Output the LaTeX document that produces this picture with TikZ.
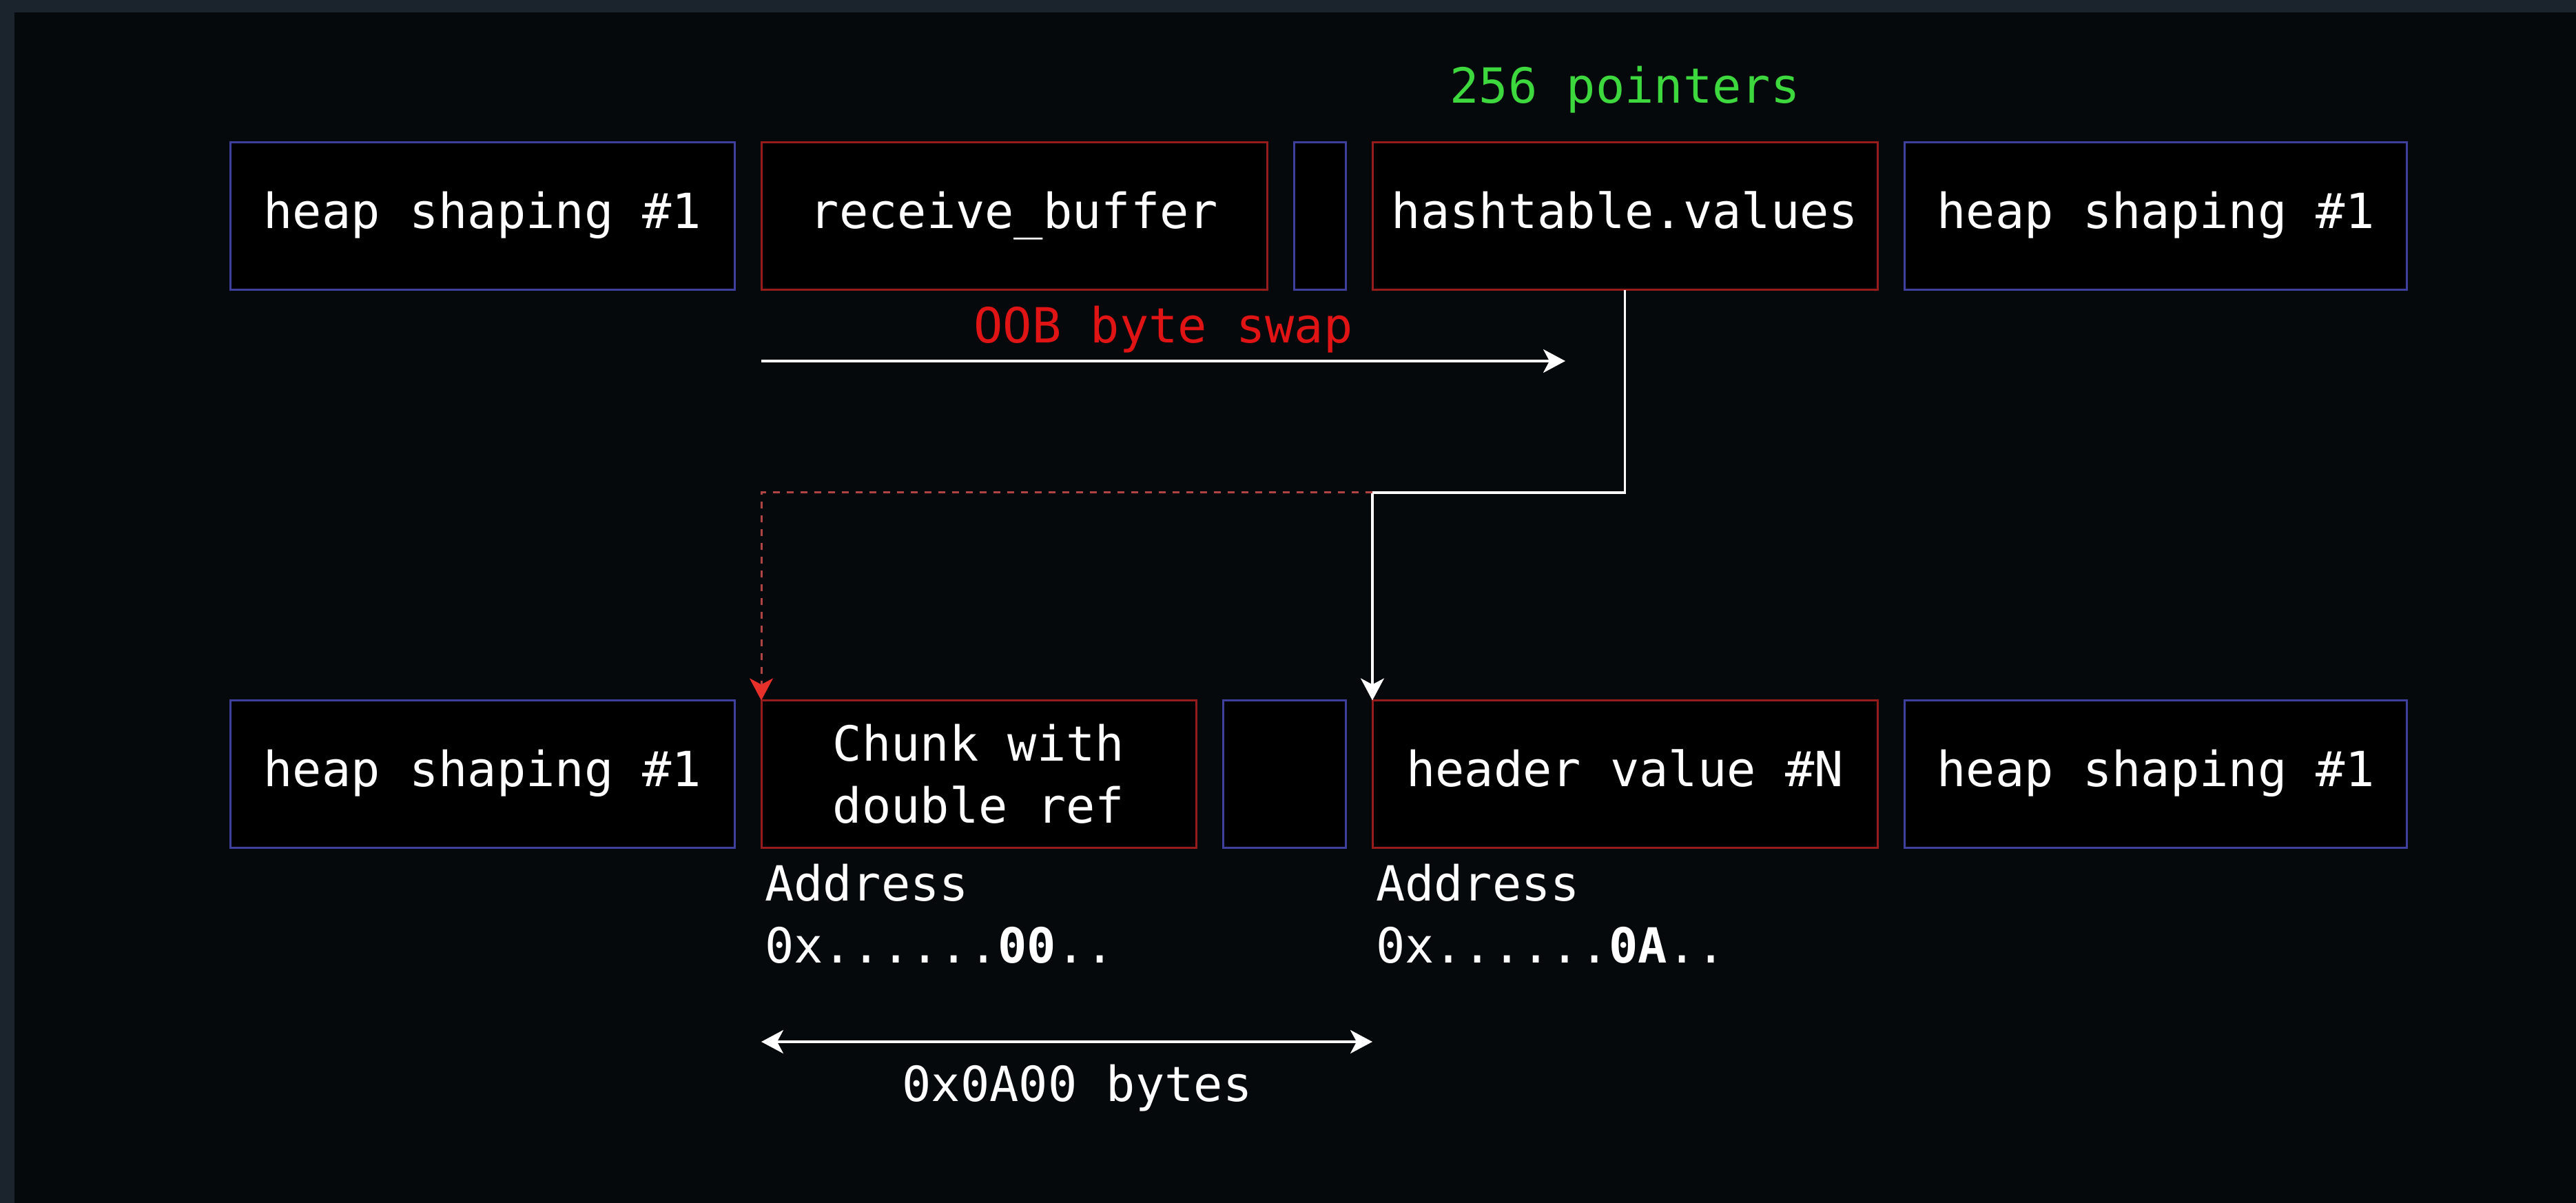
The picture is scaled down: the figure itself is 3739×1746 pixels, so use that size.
\documentclass[tikz,border=0pt]{standalone}
\usepackage{fontspec}
\setmonofont{DejaVu Sans Mono}
\usetikzlibrary{arrows.meta,positioning}

\definecolor{framegray}{HTML}{1B232D}
\definecolor{pagebg}{HTML}{05090C}
\definecolor{cellblue}{HTML}{3F3F9E}
\definecolor{cellred}{HTML}{961C1C}
\definecolor{ptrgreen}{HTML}{3DD83D}
\definecolor{oobred}{HTML}{E01414}
\definecolor{linkred}{HTML}{B04444}
\definecolor{tipred}{HTML}{E8302A}
\newcommand{\memfont}{\ttfamily\fontsize{20}{25.6}\selectfont}

\begin{document}
\begin{tikzpicture}[x=0.1mm,y=-0.1mm,>={Stealth[length=3.2mm,width=3.4mm,inset=0.9mm]},
  node distance=3.9mm,
  blue node/.style={rectangle,draw=cellblue,fill=black,line width=0.3mm,outer sep=0pt,
    minimum height=21.4mm,text=white,font=\memfont,text height=15pt,text depth=4.8pt},
  red node/.style={blue node,draw=cellred},
  note/.style={text=white,font=\memfont,inner sep=0pt,outer sep=0pt},
  link/.style={->,white,line width=0.35mm}]

  % page and frame
  \useasboundingbox (0,0) rectangle (3739,1746);
  \fill[framegray] (0,0) rectangle (3739,1746);
  \fill[pagebg] (21,18) rectangle (3739,1746);

  % top row
  \node[blue node,minimum width=73.2mm] (1) at (700,314) {heap shaping \#1};
  \node[red node,minimum width=73.4mm] (2) [right=of 1] {receive\_buffer};
  \node[blue node,minimum width=7.5mm] (3) [right=of 2] {};
  \node[red node,minimum width=73.3mm] (4) [right=of 3] {hashtable.values};
  \node[blue node,minimum width=73mm] (5) [right=of 4] {heap shaping \#1};

  % bottom row
  \node[blue node,minimum width=73.2mm] (6) at (700,1123.5) {heap shaping \#1};
  \node[red node,minimum width=63.1mm,align=center,text height=,text depth=] (7) [right=of 6] {Chunk with\\double ref};
  \node[blue node,minimum width=17.8mm] (8) [right=of 7] {};
  \node[red node,minimum width=73.3mm] (9) [right=of 8] {header value \#N};
  \node[blue node,minimum width=73mm] (10) [right=of 9] {heap shaping \#1};

  % labels
  \node[note,text=ptrgreen,anchor=base] (ptrs) at (4 |- 0,150) {256 pointers};
  \coordinate (swap) at (2272,524);
  \draw[link] (2.west |- swap) -- (swap)
    node[note,text=oobred,midway,above=1.2mm] {OOB byte swap};

  % pointer from the table
  \coordinate (turn) at (9.north west |- 0,715);
  \draw[link] (4.south) |- (turn) -- (9.north west);
  \draw[linkred,line width=0.3mm,dash pattern=on 1mm off 1mm,
    -{Stealth[length=3.2mm,width=3.4mm,inset=0.9mm,color=tipred]}] (turn) -| (7.north west);

  % addresses
  \node[note,align=left] (a1) [below right=2.4mm and 0.5mm of 7.south west] {Address\\0x......\textbf{00}..};
  \node[note,align=left] (a2) [below right=2.4mm and 0.5mm of 9.south west] {Address\\0x......\textbf{0A}..};

  % distance
  \coordinate (gapl) at (7.south west |- 0,1512);
  \coordinate (gapr) at (9.south west |- 0,1512);
  \draw[link,<->] (gapl) -- (gapr) node[note,midway,below=3.3mm,xshift=1.5mm] {0x0A00 bytes};
\end{tikzpicture}
\end{document}
